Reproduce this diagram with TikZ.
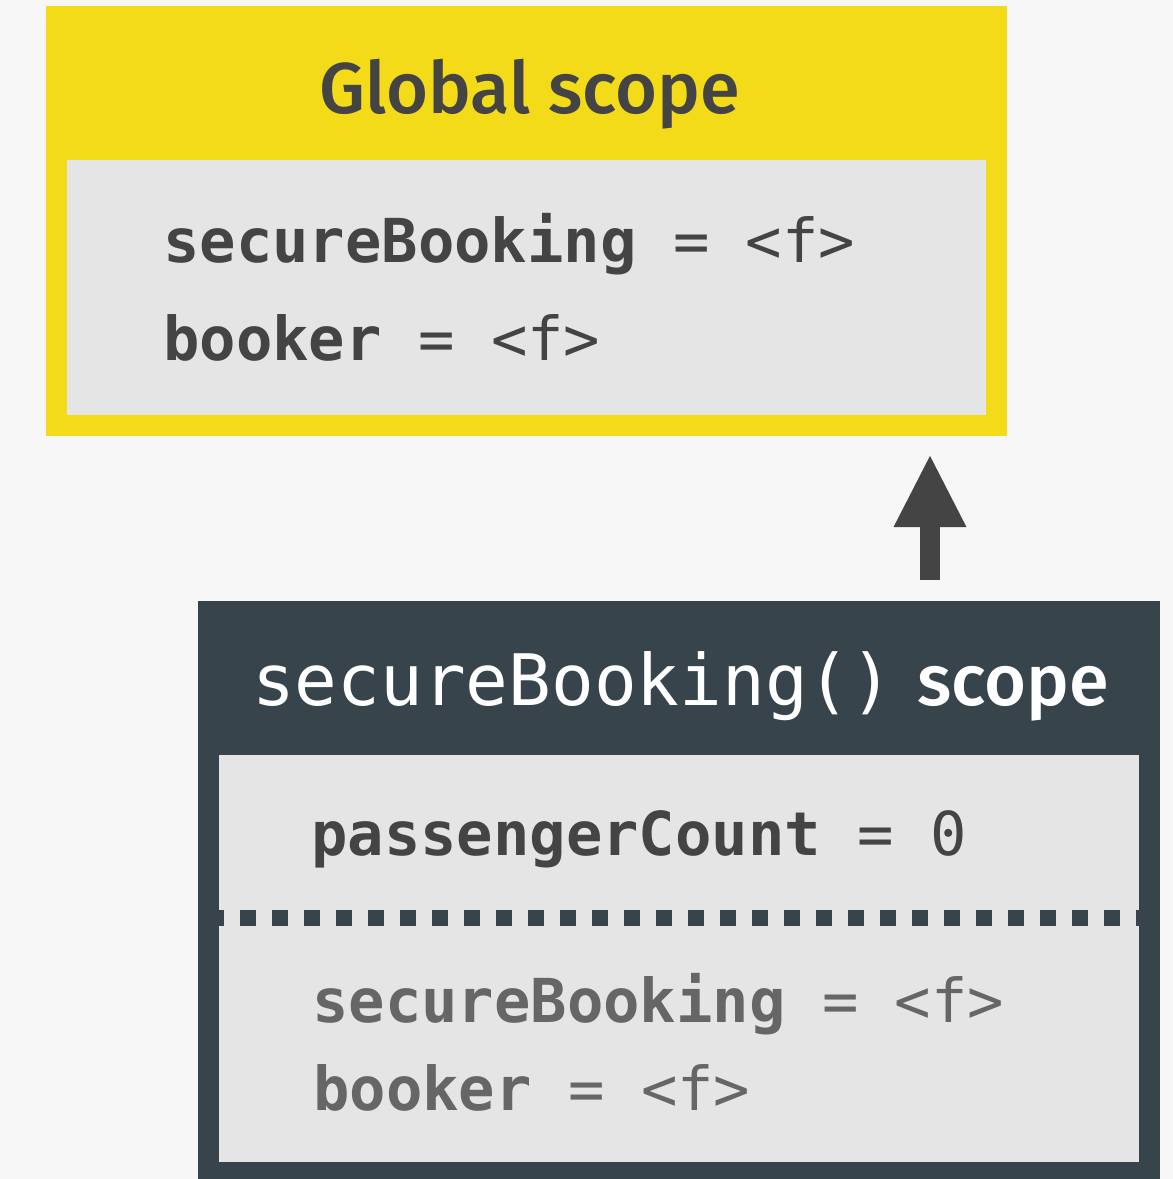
\documentclass[tikz,border=0pt]{standalone}
\usepackage{fontspec}
\setmonofont{DejaVu Sans Mono}
\newfontfamily\titlefont{Fira Sans}[UprightFont={* Medium}]
\usetikzlibrary{arrows.meta}

\definecolor{sfondo}{HTML}{F7F7F7}
\definecolor{giallo}{HTML}{F3DB1A}
\definecolor{grigiochiaro}{HTML}{E5E5E5}
\definecolor{ardesia}{HTML}{37444C}
\definecolor{testo}{HTML}{444444}
\definecolor{testogrigio}{HTML}{666666}

\tikzset{
    box/.style={anchor=north west, inner sep=0pt, outer sep=0pt},
    riga/.style={anchor=base west, inner sep=0pt, font=\fontsize{60.5}{60.5}\selectfont\ttfamily},
    titolo/.style={inner sep=0pt, font=\fontsize{72}{72}\selectfont\titlefont},
}

\begin{document}
\begin{tikzpicture}[x=1pt,y=-1pt]
        %sfondo
        \fill[sfondo](0,0) rectangle (1173,1179);
        \useasboundingbox (0,0) rectangle (1173,1179);
        %scope globale
        \node[box, fill=giallo, minimum width=961pt, minimum height=430pt] (global) at (46,6) {};
        \node[box, fill=grigiochiaro, minimum width=919pt, minimum height=255pt] (globalvars) at (67,160) {};
        \node[titolo, anchor=base, text=testo] (globaltitle) at (530,113) {Global scope};
        \node[riga, text=testo] (gsecure) at (163,262) {\textbf{secureBooking} = <f>};
        \node[riga, text=testo] (gbooker) at (163,360) {\textbf{booker} = <f>};
        %scope secureBooking
        \node[box, fill=ardesia, minimum width=962pt, minimum height=590pt] (local) at (198,601) {};
        \node[box, fill=grigiochiaro, minimum width=920pt, minimum height=407pt] (localvars) at (219,755) {};
        \node[anchor=base west, inner sep=0pt, text=white, font=\fontsize{71}{71}\selectfont\ttfamily] (localname) at (252,705) {secureBooking()};
        \node[titolo, anchor=base west, text=white] (localtitle) at (917,705) {scope};
        \node[riga, text=testo] (lcount) at (311,855) {\textbf{passengerCount} = 0};
        \draw[ardesia, line width=16pt, dash pattern=on 16pt off 16pt, dash phase=11pt] (localvars.west |- 0,918) -- (localvars.east |- 0,918); %separatore
        \node[riga, text=testogrigio] (lsecure) at (312,1022) {\textbf{secureBooking} = <f>};
        \node[riga, text=testogrigio] (lbooker) at (313,1110) {\textbf{booker} = <f>};
        %freccia scope chain
        \coordinate (arrx) at (930,0);
        \draw[testo, line width=20pt, -{Triangle[length=73pt, width=67pt]}, shorten <=21pt, shorten >=18pt] (local.north -| arrx) -- (global.south -| arrx);
    \end{tikzpicture}
\end{document}
